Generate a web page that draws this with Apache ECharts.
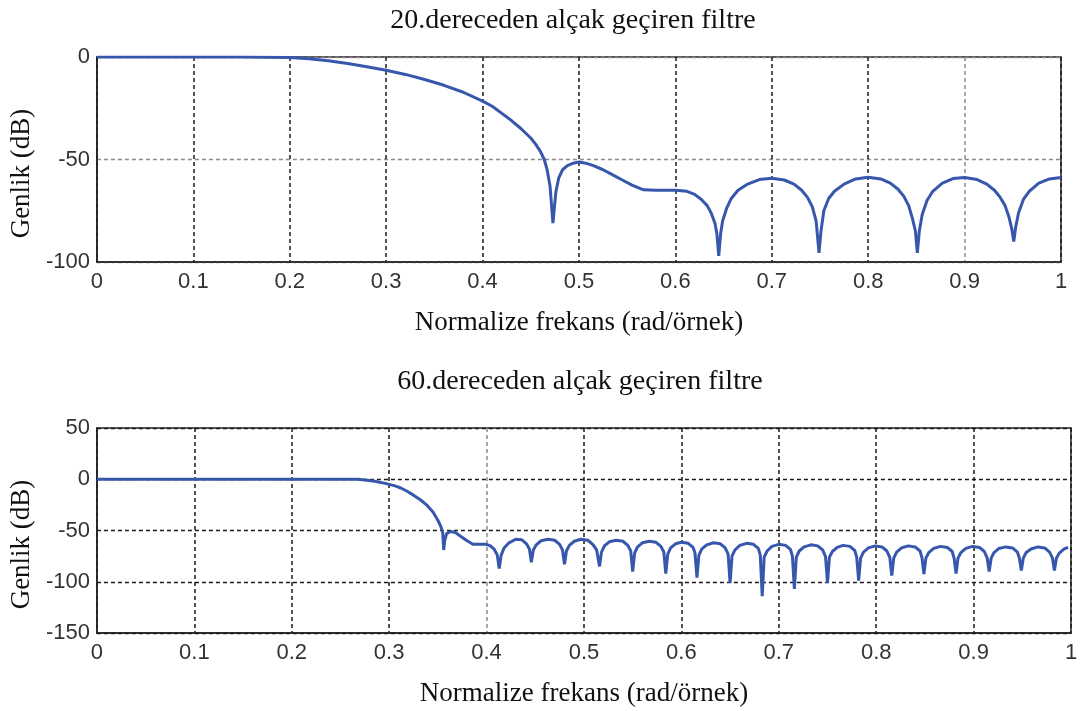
<!DOCTYPE html>
<html>
<head>
<meta charset="utf-8">
<script src="https://cdn.jsdelivr.net/npm/echarts@6/dist/echarts.min.js"></script>
<style>
html,body{margin:0;padding:0;background:#fff;}
#chart{width:1082px;height:711px;}
</style>
</head>
<body>
<div id="chart"></div>
<script>
// ---- Data ----
const title1 = "20.dereceden alçak geçiren filtre";
const title2 = "60.dereceden alçak geçiren filtre";
const xName = "Normalize frekans (rad/örnek)";
const yName = "Genlik (dB)";

// 20th order filter: frequency (normalized) and magnitude (dB)
const freq20 = [0, 0.05, 0.1, 0.15, 0.2, 0.22, 0.24, 0.26, 0.28, 0.3, 0.32, 0.34, 0.36, 0.38, 0.4, 0.41, 0.42, 0.43, 0.44, 0.45, 0.455, 0.46, 0.464, 0.467, 0.47, 0.472, 0.473, 0.474, 0.476, 0.479, 0.483, 0.488, 0.494, 0.5, 0.507, 0.515, 0.525, 0.535, 0.545, 0.555, 0.567, 0.58, 0.6, 0.612, 0.62, 0.627, 0.633, 0.637, 0.641, 0.643, 0.645, 0.647, 0.649, 0.653, 0.658, 0.665, 0.675, 0.687, 0.7, 0.713, 0.723, 0.731, 0.737, 0.742, 0.746, 0.749, 0.751, 0.754, 0.759, 0.765, 0.775, 0.787, 0.8, 0.813, 0.823, 0.831, 0.837, 0.842, 0.846, 0.849, 0.851, 0.853, 0.856, 0.861, 0.867, 0.877, 0.888, 0.9, 0.913, 0.923, 0.931, 0.937, 0.942, 0.946, 0.949, 0.951, 0.953, 0.956, 0.961, 0.967, 0.977, 0.988, 1.0];
const mag20 = [0, 0, 0, 0, -0.3, -0.8, -1.8, -3.2, -4.8, -6.5, -8.5, -11, -13.8, -17.2, -21.5, -24, -27.5, -31, -35, -39.5, -42.5, -46, -50, -55, -63, -75, -81, -76, -66, -59, -55, -53, -51.8, -51.2, -51.8, -53, -55, -57.5, -60, -62.5, -64.8, -65, -65, -65.5, -67, -69.5, -72.5, -76, -81, -86, -97, -86, -80, -74, -69, -65, -62, -59.8, -59.2, -60, -62, -65, -68.5, -73, -80, -95.5, -85, -75, -69, -65.5, -62, -59.5, -58.7, -59.5, -61.5, -64.5, -68, -72.5, -79, -85, -95.5, -85, -77, -70, -65.5, -61.5, -59.3, -58.8, -59.8, -62, -65, -68.5, -72.5, -78, -84, -90, -83, -76, -69.5, -65.5, -61.5, -59.5, -58.8];

// 60th order filter
const freq60 = [0, 0.1, 0.2, 0.268, 0.275, 0.285, 0.295, 0.3, 0.306, 0.312, 0.318, 0.325, 0.332, 0.339, 0.345, 0.35, 0.353, 0.355, 0.356, 0.357, 0.359, 0.363, 0.368, 0.374, 0.38, 0.386, 0.393, 0.399, 0.404, 0.408, 0.411, 0.413, 0.415, 0.418, 0.423, 0.43, 0.436, 0.441, 0.444, 0.446, 0.448, 0.451, 0.456, 0.463, 0.47, 0.475, 0.478, 0.48, 0.482, 0.485, 0.49, 0.497, 0.504, 0.509, 0.513, 0.516, 0.518, 0.521, 0.526, 0.533, 0.54, 0.545, 0.548, 0.55, 0.552, 0.555, 0.56, 0.567, 0.574, 0.579, 0.582, 0.584, 0.586, 0.589, 0.594, 0.6, 0.607, 0.612, 0.614, 0.616, 0.618, 0.621, 0.626, 0.633, 0.64, 0.645, 0.648, 0.65, 0.652, 0.655, 0.66, 0.667, 0.674, 0.679, 0.681, 0.683, 0.685, 0.688, 0.693, 0.7, 0.707, 0.712, 0.714, 0.716, 0.718, 0.721, 0.726, 0.733, 0.74, 0.745, 0.748, 0.75, 0.752, 0.755, 0.76, 0.766, 0.773, 0.778, 0.78, 0.782, 0.784, 0.787, 0.792, 0.799, 0.806, 0.811, 0.814, 0.816, 0.818, 0.821, 0.826, 0.833, 0.84, 0.845, 0.847, 0.849, 0.851, 0.854, 0.859, 0.866, 0.873, 0.878, 0.88, 0.882, 0.884, 0.887, 0.892, 0.899, 0.906, 0.911, 0.914, 0.916, 0.918, 0.921, 0.926, 0.933, 0.94, 0.945, 0.947, 0.949, 0.951, 0.954, 0.959, 0.966, 0.973, 0.978, 0.981, 0.983, 0.985, 0.988, 0.993, 0.997];
const mag60 = [0, 0, 0, 0, -0.8, -2, -3.8, -5, -6.5, -8.5, -11.5, -15.5, -20, -25.5, -32, -40, -46, -52, -69, -60, -53, -51, -52, -56, -60, -63.5, -63.5, -63.3, -65, -68.5, -74, -87, -74, -67, -62, -58.5, -59, -63, -68, -81, -69, -64, -60, -58.5, -59.5, -63.5, -69, -83, -70, -64.5, -60.5, -58.5, -59.5, -63.5, -69, -85, -71, -65, -61, -59.5, -60.5, -64.5, -70, -90, -72, -66, -62, -60.5, -61.5, -65.5, -71, -92, -73, -67, -63, -61.5, -62.5, -66.5, -72, -96, -74, -68, -64, -62, -63, -67, -73, -101, -75, -69, -64.5, -62.5, -63.5, -67.5, -74, -114, -76, -70, -65.5, -63.5, -64.5, -68.5, -75, -107, -76, -70, -66, -64, -65, -69, -75.5, -101, -76, -70.5, -66.5, -64.5, -65.5, -69.5, -76, -99, -77, -71, -67, -65, -66, -70, -76.5, -94, -77, -71, -67, -65, -66, -70, -76.5, -92.5, -77, -71.5, -67.5, -65.5, -66.5, -70.5, -77, -92, -77, -71.5, -67.5, -65.5, -66.5, -70.5, -77, -90, -77, -71.5, -67.5, -66, -67, -71, -77, -89, -77, -71.5, -68, -66, -67, -71, -77, -89, -77, -72, -68, -66.5];

const xTicks = [0, 1, 0.1];        // min, max, interval
const yTicks1 = [-100, 0, 50];
const yTicks2 = [-150, 50, 50];

// ---- Chart ----
const chart = echarts.init(document.getElementById('chart'), null, {renderer: 'canvas'});
const serif = "'Liberation Serif', 'Times New Roman', serif";
const sans = "'Liberation Sans', Arial, sans-serif";
const lineColor = '#3657ac';

function pairs(xs, ys){ return xs.map((x, i) => [x, ys[i]]); }

function xAxisCfg(gridIndex, gridColors){
  return {
    type: 'value', gridIndex, min: xTicks[0], max: xTicks[1], interval: xTicks[2],
    name: xName, nameLocation: 'middle', nameGap: 47,
    nameTextStyle: {fontFamily: serif, fontSize: 27, color: '#111'},
    axisLine: {show: true, onZero: false, lineStyle: {color: '#222', width: 1.5}},
    axisTick: {show: false},
    axisLabel: {fontFamily: sans, fontSize: 22, color: '#333', margin: 9},
    splitLine: {show: true, lineStyle: {color: gridColors, type: [4, 3], width: 1.5}}
  };
}
function yAxisCfg(gridIndex, t, gridColors){
  return {
    type: 'value', gridIndex, min: t[0], max: t[1], interval: t[2],
    name: yName, nameLocation: 'middle', nameGap: 60,
    nameTextStyle: {fontFamily: serif, fontSize: 27, color: '#111', padding: [0, 28, 0, 0]},
    axisLine: {show: true, onZero: false, lineStyle: {color: '#222', width: 1.5}},
    axisTick: {show: false},
    axisLabel: {fontFamily: sans, fontSize: 22, color: '#333', margin: 7},
    splitLine: {show: true, lineStyle: {color: gridColors, type: [4, 3], width: 1.3}}
  };
}

const blk = '#1a1a1a', gry = '#8a8a8a';
const option = {
  backgroundColor: '#fff',
  animation: false,
  title: [
    {text: title1, left: 568, top: 2, textAlign: 'center',
     textStyle: {fontFamily: serif, fontSize: 28, fontWeight: 'normal', color: '#111'}},
    {text: title2, left: 575, top: 363, textAlign: 'center',
     textStyle: {fontFamily: serif, fontSize: 28, fontWeight: 'normal', color: '#111'}}
  ],
  grid: [
    {left: 95, right: 21, top: 57, height: 205, show: true, borderColor: '#222', borderWidth: 1.5, backgroundColor: '#fff'},
    {left: 96, right: 11, top: 428, height: 205, show: true, borderColor: '#222', borderWidth: 1.5, backgroundColor: '#fff'}
  ],
  xAxis: [
    xAxisCfg(0, [blk, blk, blk, blk, blk, blk, blk, blk, blk, gry, blk]),
    xAxisCfg(1, [blk, blk, blk, blk, gry, blk, blk, blk, blk, blk, blk])
  ],
  yAxis: [
    yAxisCfg(0, yTicks1, [gry, gry, gry]),
    yAxisCfg(1, yTicks2, [blk, blk, blk, blk, blk])
  ],
  series: [
    {type: 'line', xAxisIndex: 0, yAxisIndex: 0, data: pairs(freq20, mag20),
     showSymbol: false, lineStyle: {color: lineColor, width: 3}, z: 5},
    {type: 'line', xAxisIndex: 1, yAxisIndex: 1, data: pairs(freq60, mag60),
     showSymbol: false, lineStyle: {color: lineColor, width: 3}, z: 5}
  ]
};
chart.setOption(option);
</script>
</body>
</html>
